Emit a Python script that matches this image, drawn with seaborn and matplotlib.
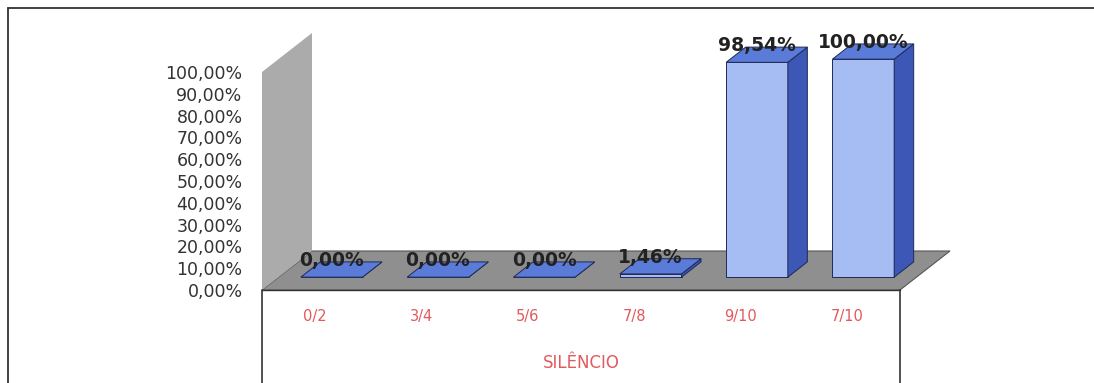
import numpy as np
import pandas as pd
import matplotlib
matplotlib.use("Agg")
import matplotlib.pyplot as plt
from matplotlib.patches import Polygon
from matplotlib.lines import Line2D
import matplotlib.transforms as mtransforms
import seaborn as sns

# ---------------- data ----------------
categories = ["0/2", "3/4", "5/6", "7/8", "9/10", "7/10"]
values = [0.00, 0.00, 0.00, 1.46, 98.54, 100.00]
value_labels = ["0,00%", "0,00%", "0,00%", "1,46%", "98,54%", "100,00%"]
y_ticks = [0, 10, 20, 30, 40, 50, 60, 70, 80, 90, 100]
y_tick_labels = ["0,00%", "10,00%", "20,00%", "30,00%", "40,00%", "50,00%",
                 "60,00%", "70,00%", "80,00%", "90,00%", "100,00%"]
axis_title = "SILÊNCIO"

# ---------------- style ----------------
sns.set_theme(style="white")
plt.rcParams['font.family'] = ['DejaVu Sans']

FRONT = "#a6bdf3"
SIDE = "#3c57b6"
TOP = "#5b7bd8"
EDGE = "#1f2a55"
FLOOR = "#8f8f8f"
WALL = "#ababab"
TEXT = "#333333"
RED = "#e05a5e"

W, H = 1094, 383
fig = plt.figure(figsize=(W / 100, H / 100), dpi=100)
fig.patch.set_facecolor("white")
ax = fig.add_axes([262 / W, (H - 290) / H, 638 / W, 218 / H])

df = pd.DataFrame({"cat": categories, "val": values})
sns.barplot(data=df, x="cat", y="val", ax=ax, width=0.58, color=FRONT,
            saturation=1, edgecolor=EDGE, linewidth=0.7, zorder=3)
bars = list(ax.patches)

ax.set_xlim(-0.5, 5.5)
ax.set_ylim(0, 100)
for s in ax.spines.values():
    s.set_visible(False)
ax.set_facecolor("none")

# oblique depth vector in data units
DX = 50 / (638 / 6)
DY = 39 / 2.18
d0 = 0.33   # depth of bar front
dd = 0.39   # bar depth

# floor and back wall
floor = Polygon([(-0.5, 0), (5.5, 0), (5.5 + DX, DY), (-0.5 + DX, DY)],
                closed=True, facecolor=FLOOR, edgecolor="#555555", lw=0.8,
                zorder=1, clip_on=False)
ax.add_patch(floor)
wall = Polygon([(-0.5, 0), (-0.5, 100), (-0.5 + DX, 100 + DY), (-0.5 + DX, DY)],
               closed=True, facecolor=WALL, edgecolor="none", lw=0,
               zorder=1, clip_on=False)
ax.add_patch(wall)

shift = mtransforms.Affine2D().translate(d0 * DX, d0 * DY) + ax.transData
for p, lab in zip(bars, value_labels):
    p.set_transform(shift)
    p.set_clip_on(False)
    x0 = p.get_x()
    x1 = x0 + p.get_width()
    v = p.get_height()
    top = Polygon([(x0, v), (x1, v), (x1 + dd * DX, v + dd * DY), (x0 + dd * DX, v + dd * DY)],
                  closed=True, facecolor=TOP, edgecolor=EDGE, lw=0.7,
                  transform=shift, zorder=3, clip_on=False)
    side = Polygon([(x1, 0), (x1, v), (x1 + dd * DX, v + dd * DY), (x1 + dd * DX, dd * DY)],
                   closed=True, facecolor=SIDE, edgecolor=EDGE, lw=0.7,
                   transform=shift, zorder=3, clip_on=False)
    ax.add_patch(side)
    ax.add_patch(top)
    cx = x0 + p.get_width() / 2
    ax.text(cx, v + dd * DY * 0.45, lab, transform=shift, ha="center", va="bottom",
            fontsize=13.5, fontweight="bold", color="#222222", zorder=5, clip_on=False)

# axes ticks
ax.set_yticks(y_ticks)
ax.set_yticklabels(y_tick_labels, fontsize=12.5, color=TEXT)
ax.tick_params(axis="y", length=0, pad=14)
ax.set_xticks(range(len(categories)))
ax.set_xticklabels(categories, fontsize=10.5, color=RED)
ax.tick_params(axis="x", length=0, pad=14)
ax.set_xlabel(axis_title, fontsize=12, color=RED, labelpad=21)
ax.set_ylabel("")

# category table lines
ax.plot([-0.5, 5.5], [0, 0], color="#333333", lw=1.0, zorder=2, clip_on=False)
ax.axvline(-0.5, ymin=-0.5, ymax=0, color="#333333", lw=1.2, clip_on=False)
ax.axvline(5.5, ymin=-0.5, ymax=0, color="#333333", lw=1.2, clip_on=False)

# chart outer border (top and left)
fig.add_artist(Line2D([8 / W, 8 / W], [0, 1 - 8 / H], transform=fig.transFigure,
                      color="#333333", lw=1.3))
fig.add_artist(Line2D([8 / W, 1], [1 - 8 / H, 1 - 8 / H], transform=fig.transFigure,
                      color="#333333", lw=1.3))

fig.savefig("out.png", dpi=100, facecolor="white")
